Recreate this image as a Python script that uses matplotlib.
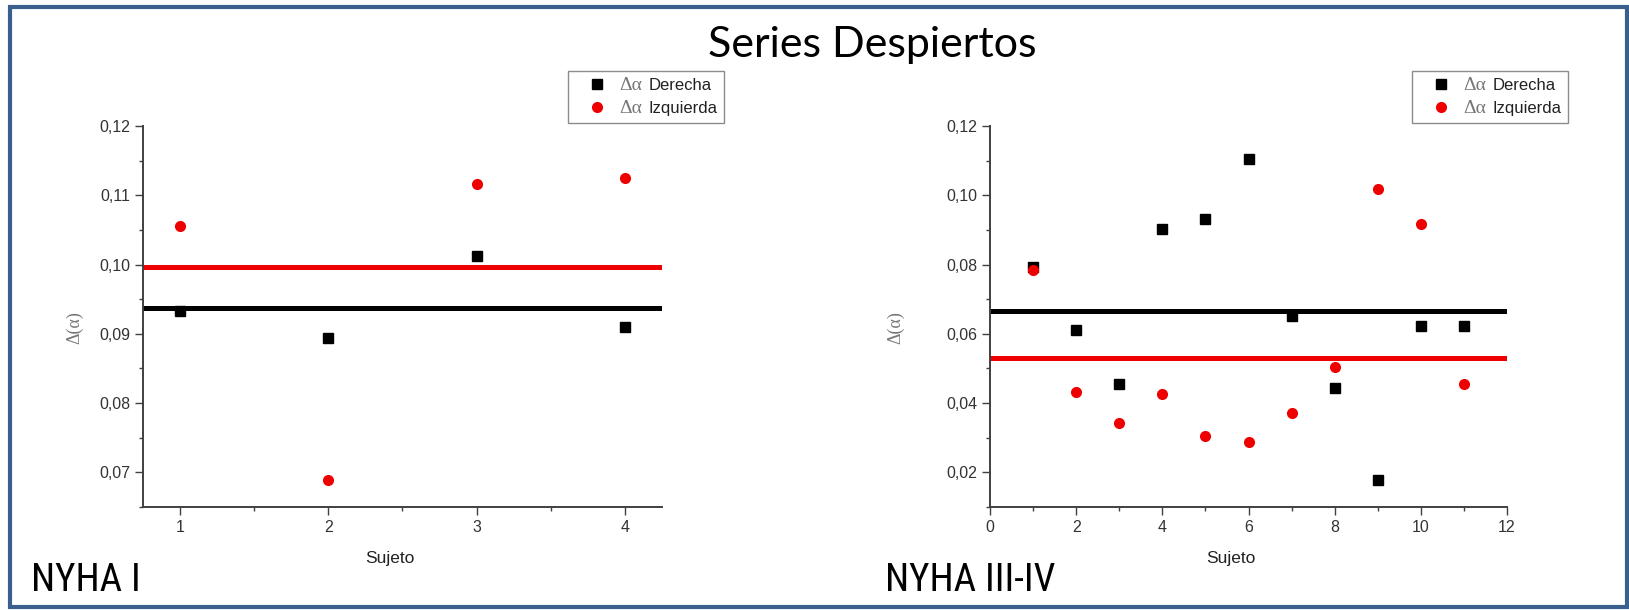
import numpy as np
import matplotlib
matplotlib.use("Agg")
import matplotlib.pyplot as plt
from matplotlib.patches import Rectangle
from matplotlib.ticker import MultipleLocator, FuncFormatter
from matplotlib import font_manager

# ---------------- data ----------------
title = "Series Despiertos"
xlabel = "Sujeto"
ylabel = "Δ(α)"
series_names = ["Derecha", "Izquierda"]

# NYHA I
nyha1_label = "NYHA I"
nyha1_subj = [1, 2, 3, 4]
nyha1_der = [0.0933, 0.0894, 0.1012, 0.0910]
nyha1_izq = [0.1055, 0.0689, 0.1116, 0.1125]

# NYHA III-IV
nyha34_label = "NYHA III-IV"
nyha34_subj = [1, 2, 3, 4, 5, 6, 7, 8, 9, 10, 11]
nyha34_der = [0.0792, 0.0610, 0.0456, 0.0904, 0.0931, 0.1105,
              0.0651, 0.0444, 0.0177, 0.0623, 0.0623]
nyha34_izq = [0.0783, 0.0432, 0.0342, 0.0425, 0.0306, 0.0288,
              0.0372, 0.0504, 0.1018, 0.0916, 0.0455]

W, H = 1629, 610
GRAY = "#404040"

def narrow_font():
    names = {f.name for f in font_manager.fontManager.ttflist}
    for n in ["Liberation Sans Narrow", "DejaVu Sans Condensed", "Roboto Condensed"]:
        if n in names:
            return n
    return "Liberation Sans"

NARROW = narrow_font()

def comma(v, pos):
    return ("%.2f" % v).replace(".", ",")


def setup_axes(ax, xlim, ylim, xmaj, xmin, ymaj, ymin):
    ax.set_xlim(*xlim)
    ax.set_ylim(*ylim)
    for s in ["top", "right"]:
        ax.spines[s].set_visible(False)
    for s in ["left", "bottom"]:
        ax.spines[s].set_color(GRAY)
        ax.spines[s].set_linewidth(1.4)
    ax.xaxis.set_major_locator(MultipleLocator(xmaj))
    ax.xaxis.set_minor_locator(MultipleLocator(xmin))
    ax.yaxis.set_major_locator(MultipleLocator(ymaj))
    ax.yaxis.set_minor_locator(MultipleLocator(ymin))
    ax.yaxis.set_major_formatter(FuncFormatter(comma))
    ax.xaxis.set_major_formatter(FuncFormatter(lambda v, p: "%d" % round(v)))
    ax.tick_params(which="major", length=5.5, width=1.0, color=GRAY,
                   labelsize=11.5, labelcolor="#333333", pad=3.5)
    ax.tick_params(which="minor", length=3, width=1.0, color=GRAY)
    for lab in ax.get_xticklabels() + ax.get_yticklabels():
        lab.set_fontfamily("Liberation Sans")


def draw_panel(ax, subj, der, izq):
    ax.axhline(np.mean(der), color="black", lw=3.6, zorder=2)
    ax.axhline(np.mean(izq), color="#ee0000", lw=3.6, zorder=2)
    h1, = ax.plot(subj, der, ls="none", marker="s", ms=7, color="black", zorder=3)
    h2, = ax.plot(subj, izq, ls="none", marker="o", ms=8, color="#ee0000",
                  markeredgewidth=0, zorder=3)
    return [h1, h2]


fig = plt.figure(figsize=(W / 100, H / 100), dpi=100)

ax1 = fig.add_axes([143 / W, 1 - 507 / H, 519 / W, 381 / H])
ax2 = fig.add_axes([990 / W, 1 - 507 / H, 517 / W, 381 / H])

h_left = draw_panel(ax1, nyha1_subj, nyha1_der, nyha1_izq)
h_right = draw_panel(ax2, nyha34_subj, nyha34_der, nyha34_izq)

setup_axes(ax1, (0.75, 4.25), (0.065, 0.12), 1, 0.5, 0.01, 0.005)
setup_axes(ax2, (0, 12), (0.01, 0.12), 2, 1, 0.02, 0.01)

for ax, lx, sx in [(ax1, -0.115, 0.476), (ax2, -0.165, 0.466)]:
    ax.set_xlabel(xlabel, fontsize=12.5, family="Liberation Sans", color="#222222")
    ax.xaxis.set_label_coords(sx, -0.115)
    ax.set_ylabel(ylabel, fontsize=13, family="Liberation Serif", color="#777777")
    ax.yaxis.set_label_coords(lx, 0.47)

legends = []
for ax, handles, left in [(ax1, h_left, 568), (ax2, h_right, 1412)]:
    leg = ax.legend(handles, series_names, loc="upper left",
                    bbox_to_anchor=(left / W, 1 - 71 / H),
                    bbox_transform=fig.transFigure, borderaxespad=0,
                    frameon=True, fancybox=False, framealpha=1,
                    edgecolor="#8c8c8c", handlelength=2.6,
                    handletextpad=1.8, labelspacing=0.5, borderpad=0.42,
                    prop={"family": "Liberation Sans", "size": 12})
    leg.get_frame().set_linewidth(1.0)
    for t in leg.get_texts():
        t.set_color("#222222")
    legends.append(leg)

fig.text(872 / W, 1 - 57 / H, title, ha="center", va="baseline",
         fontsize=31, family="Lato", color="black")
fig.text(31 / W, 1 - 591 / H, nyha1_label, ha="left", va="baseline",
         fontsize=28, family=NARROW, color="black")
fig.text(885 / W, 1 - 591 / H, nyha34_label, ha="left", va="baseline",
         fontsize=28, family=NARROW, color="black")

# blue frame around the slide
fig.patches.append(Rectangle((9.5 / W, 1 - 607 / H), (1627 - 9.5) / W, 600 / H,
                             transform=fig.transFigure, fill=False,
                             edgecolor="#3b5f8d", lw=3.0))

# gray "Δα" before each legend label
fig.canvas.draw()
r = fig.canvas.get_renderer()
for leg in legends:
    for t in leg.get_texts():
        bb = t.get_window_extent(r)
        fig.text((bb.x0 - 6) / W, (bb.y0 + bb.y1) / 2 / H, "Δα",
                 ha="right", va="center", fontsize=14,
                 family="Liberation Serif", color="#777777")

fig.savefig("out.png", dpi=100)
